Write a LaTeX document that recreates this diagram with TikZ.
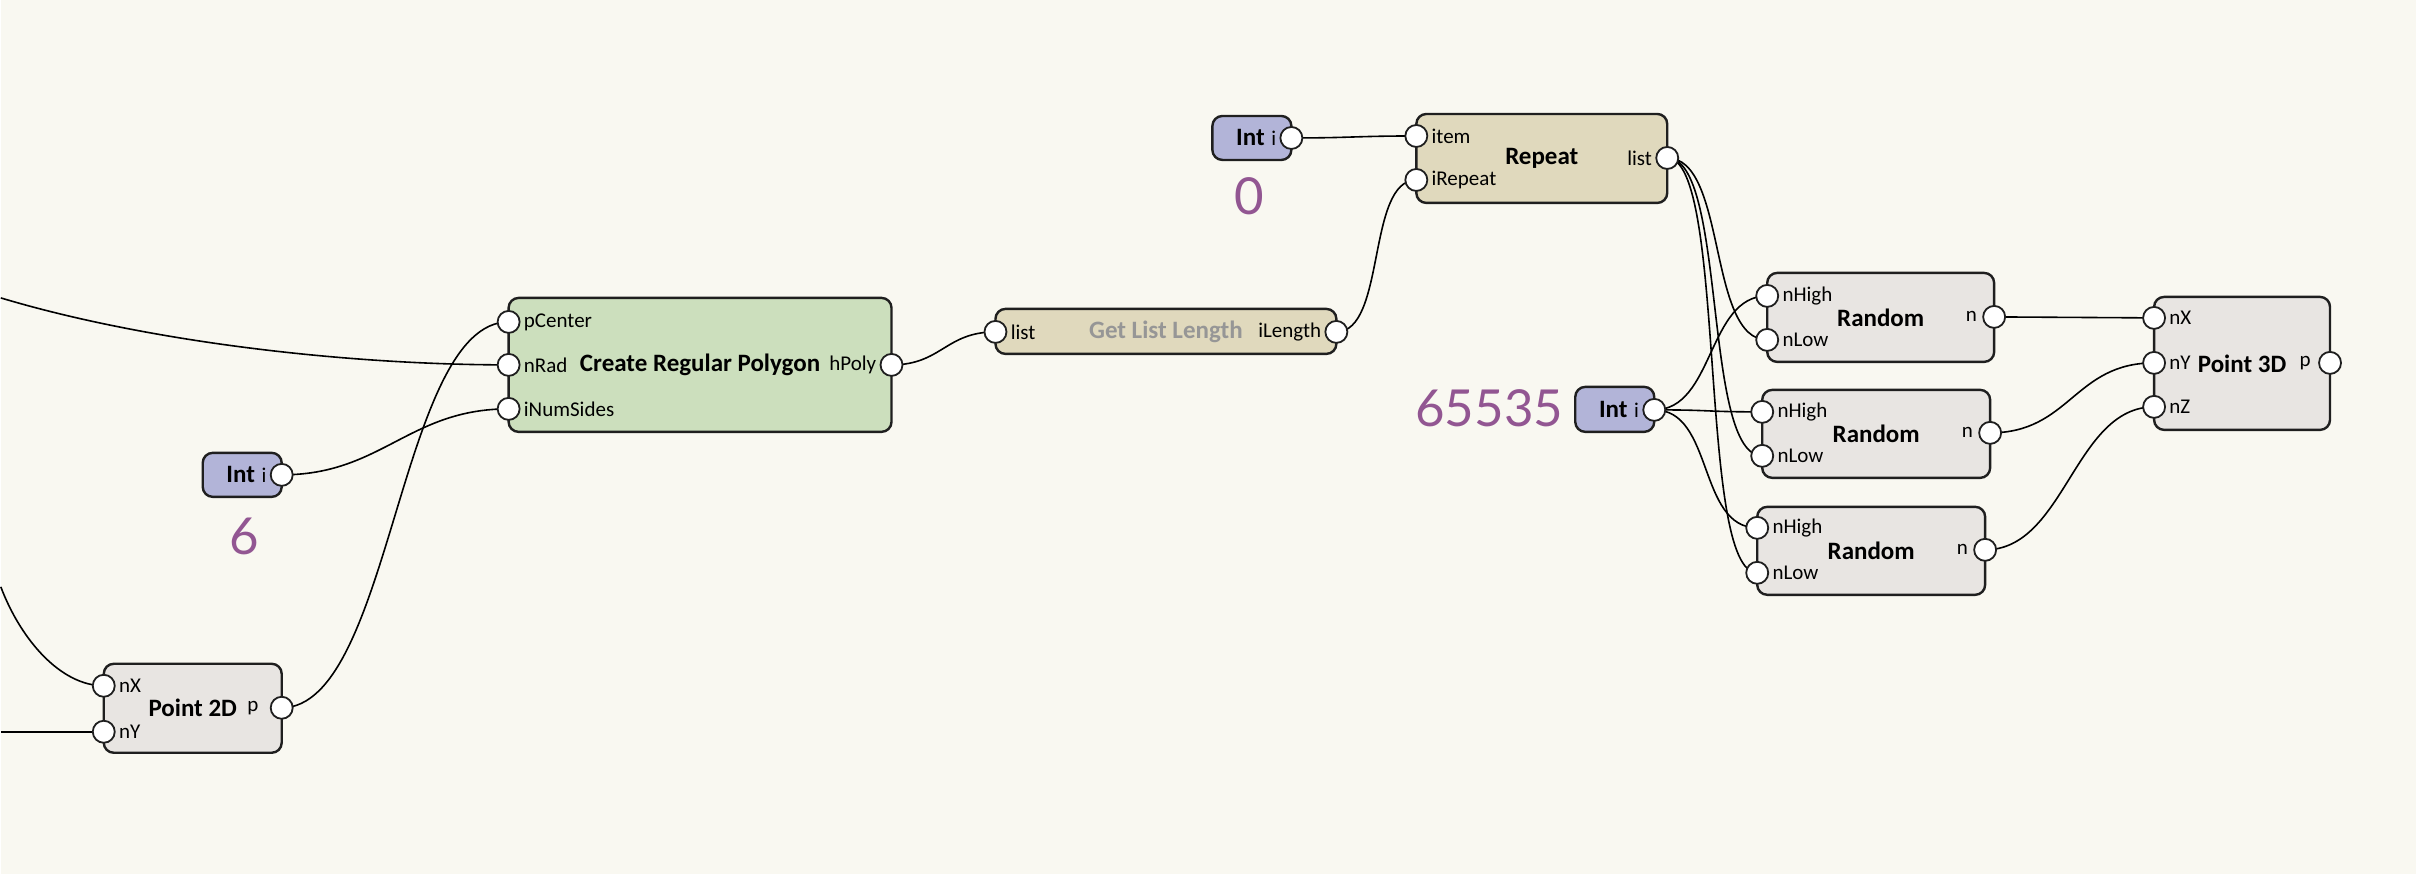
\documentclass[tikz,border=0pt]{standalone}
\usepackage{fontspec}
\setmainfont{Carlito}
\newfontfamily\numfont{Lato}
\definecolor{bgcol}{RGB}{249,248,241}
\definecolor{polycol}{RGB}{204,223,189}
\definecolor{listcol}{RGB}{224,217,189}
\definecolor{pointcol}{RGB}{232,229,226}
\definecolor{intcol}{RGB}{178,180,216}
\definecolor{valcol}{RGB}{146,86,146}
\definecolor{dimcol}{RGB}{150,150,150}
\pgfdeclarelayer{paper}
\pgfdeclarelayer{boxes}
\pgfdeclarelayer{wires}
\pgfsetlayers{paper,boxes,wires,main}
\begin{document}
\begin{tikzpicture}[x=0.5pt,y=-0.5pt,
  box/.style={draw=black!88, line width=1.2pt, rounded corners=5pt, inner sep=0pt},
  port/.style={circle, draw=black!88, fill=white, line width=0.9pt, minimum size=11pt, inner sep=0pt},
  plab/.style={font=\fontsize{10.5}{11}\selectfont, inner sep=1.5pt},
  title/.style={font=\bfseries\fontsize{12.5}{13}\selectfont, inner sep=0pt},
  val/.style={font=\numfont\fontsize{25.5}{26}\selectfont, text=valcol, inner sep=0pt},
  wire/.style={line width=0.8pt}]
\begin{pgfonlayer}{paper}
\useasboundingbox[fill=bgcol] (0,0) rectangle (2416,874);
\end{pgfonlayer}

\begin{pgfonlayer}{boxes}
\node[box, fill=polycol, minimum width=191.5pt, minimum height=67pt] (crp) at (699.5,365) {};
\node[box, fill=intcol, minimum width=39.5pt, minimum height=22pt] (int6) at (241.5,475) {};
\node[box, fill=pointcol, minimum width=89pt, minimum height=44.5pt] (pt2) at (192,708.5) {};
\node[box, fill=listcol, minimum width=170.5pt, minimum height=22.5pt] (gll) at (1165.5,331.5) {};
\node[box, fill=intcol, minimum width=39.5pt, minimum height=22pt] (int0) at (1251.5,138) {};
\node[box, fill=listcol, minimum width=125.5pt, minimum height=44.5pt] (rep) at (1541.5,158.5) {};
\node[box, fill=intcol, minimum width=39.5pt, minimum height=22.5pt] (intmax) at (1614.5,409.5) {};
\node[box, fill=pointcol, minimum width=113.5pt, minimum height=44.5pt] (rnd1) at (1880.5,317.5) {};
\node[box, fill=pointcol, minimum width=114pt, minimum height=44pt] (rnd2) at (1876,434) {};
\node[box, fill=pointcol, minimum width=114pt, minimum height=44pt] (rnd3) at (1871,551) {};
\node[box, fill=pointcol, minimum width=88pt, minimum height=66.5pt] (pt3) at (2242,363.5) {};
\end{pgfonlayer}

% titles
\node[title] at (crp) {Create Regular Polygon};
\node[title] at (pt2) {Point 2D};
\node[title, text=dimcol] at (gll) {Get List Length};
\node[title] at (rep) {Repeat};
\node[title] at (rnd1) {Random};
\node[title] at (rnd2) {Random};
\node[title] at (rnd3) {Random};
\node[title] at (pt3) {Point 3D};
\node[title] at (240,475) {Int};
\node[title] at (1250,138) {Int};
\node[title] at (1613,410) {Int};

% ports
\node[port] (crp-pc) at (508,322) {};
\node[port] (crp-nr) at (508,365) {};
\node[port] (crp-ns) at (508,409) {};
\node[port] (crp-hp) at (891,365) {};
\node[port] (int6-i) at (281,475) {};
\node[port] (pt2-nx) at (103,686) {};
\node[port] (pt2-ny) at (103,732) {};
\node[port] (pt2-p) at (281,708) {};
\node[port] (gll-l) at (995,332) {};
\node[port] (gll-il) at (1336,332) {};
\node[port] (int0-i) at (1291,138) {};
\node[port] (rep-it) at (1416,136) {};
\node[port] (rep-ir) at (1416,180) {};
\node[port] (rep-l) at (1667,158) {};
\node[port] (intmax-i) at (1654,410) {};
\node[port] (rnd1-hi) at (1767,296) {};
\node[port] (rnd1-lo) at (1767,340) {};
\node[port] (rnd1-n) at (1994,317) {};
\node[port] (rnd2-hi) at (1762,412) {};
\node[port] (rnd2-lo) at (1762,456) {};
\node[port] (rnd2-n) at (1990,433) {};
\node[port] (rnd3-hi) at (1757,528) {};
\node[port] (rnd3-lo) at (1757,573) {};
\node[port] (rnd3-n) at (1985,550) {};
\node[port] (pt3-nx) at (2154,318) {};
\node[port] (pt3-ny) at (2154,363) {};
\node[port] (pt3-nz) at (2154,407) {};
\node[port] (pt3-p) at (2330,363) {};

% port labels
\node[plab, anchor=west] at (crp-pc.east) {pCenter};
\node[plab, anchor=west] at (crp-nr.east) {nRad};
\node[plab, anchor=west] at (crp-ns.east) {iNumSides};
\node[plab, anchor=east] at (crp-hp.west) {hPoly};
\node[plab, anchor=east] at (int6-i.west) {i};
\node[plab, anchor=west] at (pt2-nx.east) {nX};
\node[plab, anchor=west] at (pt2-ny.east) {nY};
\node[plab, anchor=east, xshift=-4pt] at (pt2-p.west) {p};
\node[plab, anchor=west] at (gll-l.east) {list};
\node[plab, anchor=east] at (gll-il.west) {iLength};
\node[plab, anchor=east] at (int0-i.west) {i};
\node[plab, anchor=west] at (rep-it.east) {item};
\node[plab, anchor=west] at (rep-ir.east) {iRepeat};
\node[plab, anchor=east] at (rep-l.west) {list};
\node[plab, anchor=east] at (intmax-i.west) {i};
\foreach \r in {rnd1,rnd2,rnd3}{
  \node[plab, anchor=west] at (\r-hi.east) {nHigh};
  \node[plab, anchor=west] at (\r-lo.east) {nLow};
  \node[plab, anchor=east, xshift=-1pt] at (\r-n.west) {n};
}
\node[plab, anchor=west] at (pt3-nx.east) {nX};
\node[plab, anchor=west] at (pt3-ny.east) {nY};
\node[plab, anchor=west] at (pt3-nz.east) {nZ};
\node[plab, anchor=east, xshift=-2pt] at (pt3-p.west) {p};

% values
\node[val] (v6) at (244,537) {6};
\node[val] (v0) at (1249,196) {0};
\node[val] (vmax) at (1489,408) {65535};

\coordinate (inrad) at (0,298);
\coordinate (inx) at (0,587);
\coordinate (iny) at (0,732);

\begin{pgfonlayer}{wires}
\draw[wire] (inrad) .. controls (150,343) and (350,365) .. (crp-nr.center);
\draw[wire] (inx) .. controls (20,640) and (60,686) .. (pt2-nx.center);
\draw[wire] (iny) -- (pt2-ny.center);
\draw[wire] (int6-i.center) .. controls +(100,0) and +(-100,0) .. (crp-ns.center);
\draw[wire] (pt2-p.center) .. controls +(110,0) and +(-110,0) .. (crp-pc.center);
\draw[wire] (crp-hp.center) .. controls +(50,0) and +(-50,0) .. (gll-l.center);
\draw[wire] (gll-il.center) .. controls +(50,0) and +(-50,0) .. (rep-ir.center);
\draw[wire] (int0-i.center) .. controls +(60,0) and +(-60,0) .. (rep-it.center);
\foreach \r in {rnd1,rnd2,rnd3}{
  \draw[wire] (rep-l.center) .. controls +(60,0) and +(-60,0) .. (\r-lo.center);
  \draw[wire] (intmax-i.center) .. controls +(60,0) and +(-60,0) .. (\r-hi.center);
}
\draw[wire] (rnd1-n.center) .. controls +(80,0) and +(-80,0) .. (pt3-nx.center);
\draw[wire] (rnd2-n.center) .. controls +(80,0) and +(-80,0) .. (pt3-ny.center);
\draw[wire] (rnd3-n.center) .. controls +(80,0) and +(-80,0) .. (pt3-nz.center);
\end{pgfonlayer}
\end{tikzpicture}
\end{document}
